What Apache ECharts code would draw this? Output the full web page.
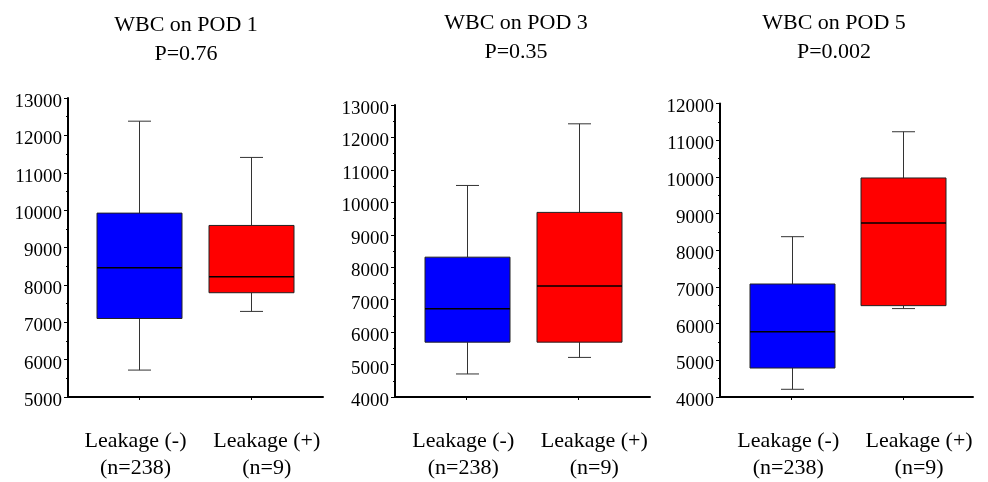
<!DOCTYPE html>
<html>
<head>
<meta charset="utf-8">
<script src="https://cdn.jsdelivr.net/npm/echarts@6/dist/echarts.min.js"></script>
<style>
  html, body { margin: 0; padding: 0; background: #fff; }
  #chart { width: 988px; height: 482px; }
</style>
</head>
<body>
<div id="chart"></div>
<script>
// groups on the x axis
const groupNames = ["Leakage (-)", "Leakage (+)"];
const groupCounts = ["(n=238)", "(n=9)"];
const panelTitles = ["WBC on POD 1", "WBC on POD 3", "WBC on POD 5"];
const pValues = ["P=0.76", "P=0.35", "P=0.002"];

// box values: [min, Q1, median, Q3, max]
const pod1NoLeak = [5720, 7100, 8460, 9920, 12380];
const pod1Leak = [7290, 7790, 8220, 9590, 11410];
const pod3NoLeak = [4710, 5690, 6720, 8310, 10520];
const pod3Leak = [5220, 5690, 7420, 9690, 12420];
const pod5NoLeak = [4210, 4790, 5780, 7080, 8370];
const pod5Leak = [6410, 6490, 8740, 9970, 11230];

const yMins = [5000, 4000, 4000];
const yMaxs = [13000, 13000, 12000];

const panelBoxes = [
  [pod1NoLeak, pod1Leak],
  [pod3NoLeak, pod3Leak],
  [pod5NoLeak, pod5Leak],
];

// layout
const grids = [
  { left: 68, top: 98, width: 255, height: 301.5 },
  { left: 395, top: 105, width: 255, height: 294 },
  { left: 720, top: 103.5, width: 253, height: 296 },
];
const xRanges = [[-0.632, 1.641], [-0.64, 1.638], [-0.64, 1.622]];
// the group labels sit a little off their ticks in the original
const labelSpots = [-0.03, 1.14];
const titleCenters = [[186, 11], [516, 9], [834, 9]];
const boxColors = ["#0000ff", "#ff0000"];
const BOX_W = 85;
const CAP_W = 23;
const serif = "Liberation Serif";

const chart = echarts.init(document.getElementById("chart"));

function renderBox(params, api) {
  const x = api.value(0);
  const lo = api.coord([x, api.value(1)]);
  const q1 = api.coord([x, api.value(2)]);
  const med = api.coord([x, api.value(3)]);
  const q3 = api.coord([x, api.value(4)]);
  const hi = api.coord([x, api.value(5)]);
  const cx = Math.round(lo[0]) + 0.5;
  const half = BOX_W / 2;
  const cap = CAP_W / 2;
  const whisker = { stroke: "#333", lineWidth: 1 };
  return {
    type: "group",
    children: [
      { type: "line", shape: { x1: cx, y1: hi[1], x2: cx, y2: q3[1] }, style: whisker },
      { type: "line", shape: { x1: cx, y1: q1[1], x2: cx, y2: lo[1] }, style: whisker },
      { type: "line", shape: { x1: cx - cap, y1: hi[1], x2: cx + cap, y2: hi[1] }, style: whisker },
      { type: "line", shape: { x1: cx - cap, y1: lo[1], x2: cx + cap, y2: lo[1] }, style: whisker },
      {
        type: "rect",
        shape: { x: cx - half, y: q3[1], width: BOX_W, height: q1[1] - q3[1] },
        style: { fill: boxColors[params.dataIndex], stroke: "#222", lineWidth: 1 },
      },
      {
        type: "line",
        shape: { x1: cx - half, y1: med[1], x2: cx + half, y2: med[1] },
        style: { stroke: "#000", lineWidth: 1.5 },
      },
    ],
  };
}

function xLabel(value) {
  const i = value < 0.5 ? 0 : 1;
  return `${groupNames[i]}\n${groupCounts[i]}`;
}

const option = {
  backgroundColor: "#fff",
  animation: false,
  grid: grids,
  xAxis: grids.map((g, i) => ({
    type: "value",
    gridIndex: i,
    min: xRanges[i][0],
    max: xRanges[i][1],
    splitLine: { show: false },
    axisLine: { onZero: false, lineStyle: { color: "#000", width: 2 } },
    axisTick: { customValues: [0, 1], length: 3, lineStyle: { color: "#000" } },
    axisLabel: {
      customValues: labelSpots,
      hideOverlap: false,
      showMinLabel: true,
      showMaxLabel: true,
      margin: 31,
      formatter: xLabel,
      fontFamily: serif,
      fontSize: 22,
      lineHeight: 27,
      color: "#000",
    },
  })),
  yAxis: grids.map((g, i) => ({
    type: "value",
    gridIndex: i,
    min: yMins[i],
    max: yMaxs[i],
    interval: 1000,
    splitLine: { show: false },
    axisLine: { show: true, onZero: false, lineStyle: { color: "#000", width: 2 } },
    axisTick: { show: true, length: 4, lineStyle: { color: "#000" } },
    minorTick: { show: true, splitNumber: 2, length: 2, lineStyle: { color: "#000" } },
    axisLabel: {
      fontFamily: serif,
      fontSize: 19,
      color: "#000",
      margin: 6,
      verticalAlign: "top",
      lineHeight: 8,
      formatter: (v) => String(v),
    },
  })),
  graphic: panelTitles.map((t, i) => ({
    type: "text",
    x: titleCenters[i][0],
    y: titleCenters[i][1],
    style: {
      text: `${t}\n${pValues[i]}`,
      textAlign: "center",
      fontFamily: serif,
      fontSize: 22,
      lineHeight: 29,
      fill: "#000",
    },
  })),
  series: panelBoxes.map((boxes, i) => ({
    type: "custom",
    xAxisIndex: i,
    yAxisIndex: i,
    renderItem: renderBox,
    encode: { x: 0, y: [1, 2, 3, 4, 5] },
    data: boxes.map((b, j) => [j, ...b]),
  })),
};

chart.setOption(option);
</script>
</body>
</html>
